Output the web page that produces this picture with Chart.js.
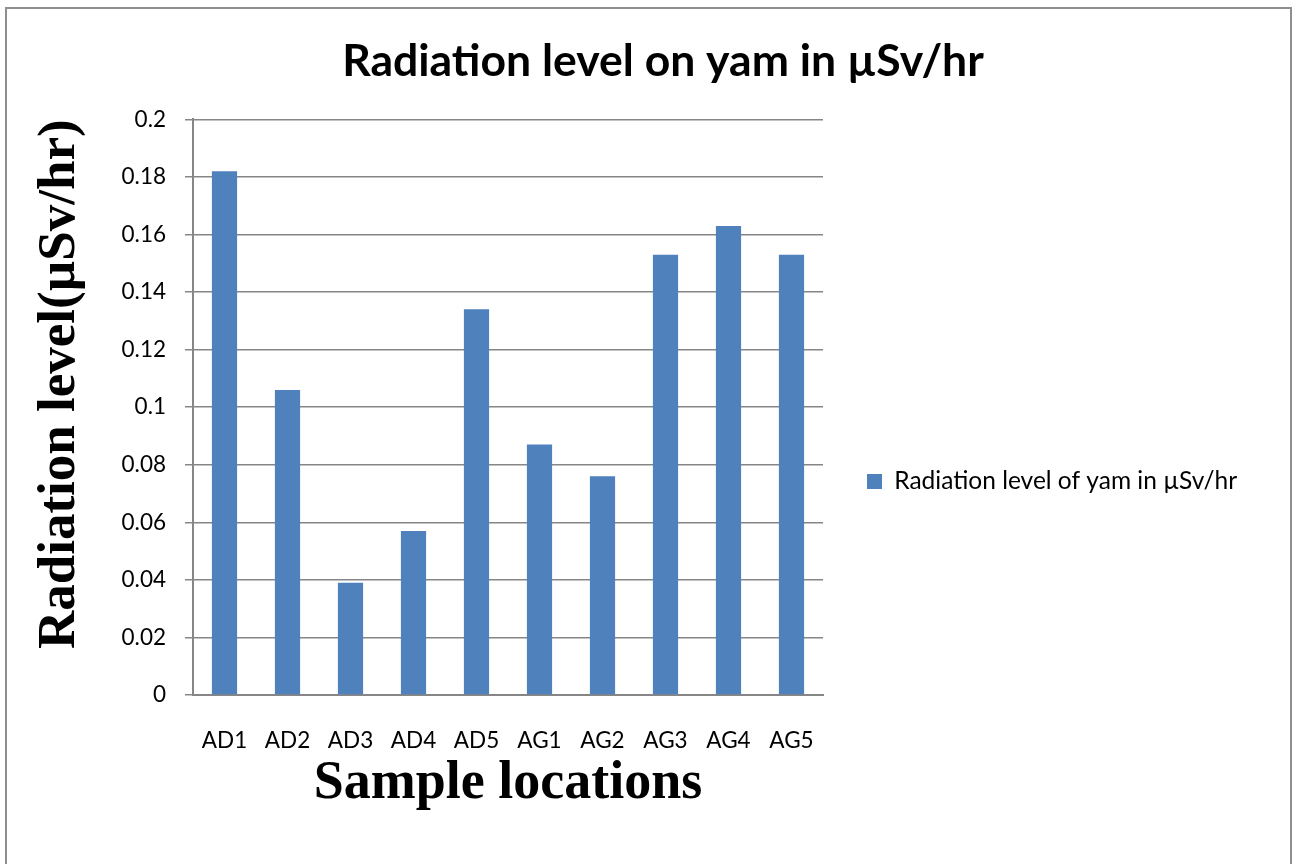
<!DOCTYPE html>
<html>
<head>
<meta charset="utf-8">
<script src="https://cdn.jsdelivr.net/npm/chart.js@4.4.1/dist/chart.umd.min.js"></script>
<style>
  html, body { margin: 0; padding: 0; background: #fff; }
  #wrap { position: relative; width: 1296px; height: 864px; overflow: hidden; }
  #frame {
    position: absolute; left: 5px; top: 7px; width: 1287px; height: 900px;
    border: 2px solid #8e8e8e; pointer-events: none; box-sizing: border-box;
  }
</style>
</head>
<body>
<div id="wrap">
  <canvas id="myChart" width="1296" height="864"></canvas>
  <div id="frame"></div>
</div>
<script>
const categories = ['AD1', 'AD2', 'AD3', 'AD4', 'AD5', 'AG1', 'AG2', 'AG3', 'AG4', 'AG5'];
const radiationValues = [0.182, 0.106, 0.039, 0.057, 0.134, 0.087, 0.076, 0.153, 0.163, 0.153];
const seriesLabel = 'Radiation level of yam in µSv/hr';
const chartTitle = 'Radiation level on yam in µSv/hr';
const yTitle = 'Radiation level(µSv/hr)';
const xTitle = 'Sample locations';
const yMin = 0;
const yMax = 0.2;
const yStep = 0.02;

const gridColor = '#868686';
const labelFont = 'Lato, "Open Sans", sans-serif';
const serifFont = '"Liberation Serif", "DejaVu Serif", serif';

// keep legend box a fixed width so the plot area ends where the reference does
const fixLegend = {
    id: 'fixLegend',
    beforeLayout(chart) {
        const lg = chart.legend;
        if (lg && !lg._patched) {
            const fit = lg.fit.bind(lg);
            lg.fit = function () {
                fit();
                this.width = 473;
            };
            lg._patched = true;
        }
    }
};

const ctx = document.getElementById('myChart').getContext('2d');
new Chart(ctx, {
    type: 'bar',
    data: {
        labels: categories,
        datasets: [{
            label: seriesLabel,
            data: radiationValues,
            backgroundColor: '#4F81BD',
            borderWidth: 0,
            barPercentage: 0.4,
            categoryPercentage: 1.0
        }]
    },
    options: {
        responsive: false,
        animation: false,
        layout: {
            padding: { top: 0, left: 30, right: 0, bottom: 49 }
        },
        plugins: {
            title: {
                display: true,
                text: chartTitle,
                color: '#000',
                font: { family: labelFont, size: 44.5, weight: 'bold', lineHeight: 1.2 },
                padding: { top: 35, bottom: 31 }
            },
            legend: {
                position: 'right',
                // empty title only pushes the single entry down to the reference height
                title: {
                    display: true,
                    text: '',
                    font: { size: 10, lineHeight: 1 },
                    padding: { top: 138, bottom: 0 }
                },
                labels: {
                    boxWidth: 15,
                    boxHeight: 15,
                    padding: 44,
                    color: '#000',
                    font: { family: labelFont, size: 24.5 }
                }
            },
            tooltip: { enabled: false }
        },
        scales: {
            x: {
                grid: { display: false, drawTicks: false },
                border: { display: true, color: gridColor, width: 2 },
                ticks: {
                    color: '#000',
                    padding: 32,
                    font: { family: labelFont, size: 22.5 }
                },
                title: {
                    display: true,
                    text: xTitle,
                    color: '#000',
                    font: { family: serifFont, size: 54, weight: 'bold', lineHeight: 1 },
                    padding: { top: -29, bottom: 4 }
                }
            },
            y: {
                min: yMin,
                max: yMax,
                afterFit(scale) { scale.width = 163; },
                grid: { color: gridColor, lineWidth: 1.5, tickLength: 8 },
                border: { display: true, color: gridColor, width: 2 },
                ticks: {
                    stepSize: yStep,
                    color: '#000',
                    padding: 19,
                    font: { family: labelFont, size: 22.5 },
                    callback: (v) => String(+v.toFixed(2))
                },
                title: {
                    display: true,
                    text: yTitle,
                    align: 'end',
                    color: '#000',
                    font: { family: serifFont, size: 53, weight: 'bold', lineHeight: 1 },
                    padding: { top: 4, bottom: 4 }
                }
            }
        }
    },
    plugins: [fixLegend]
});
</script>
</body>
</html>
